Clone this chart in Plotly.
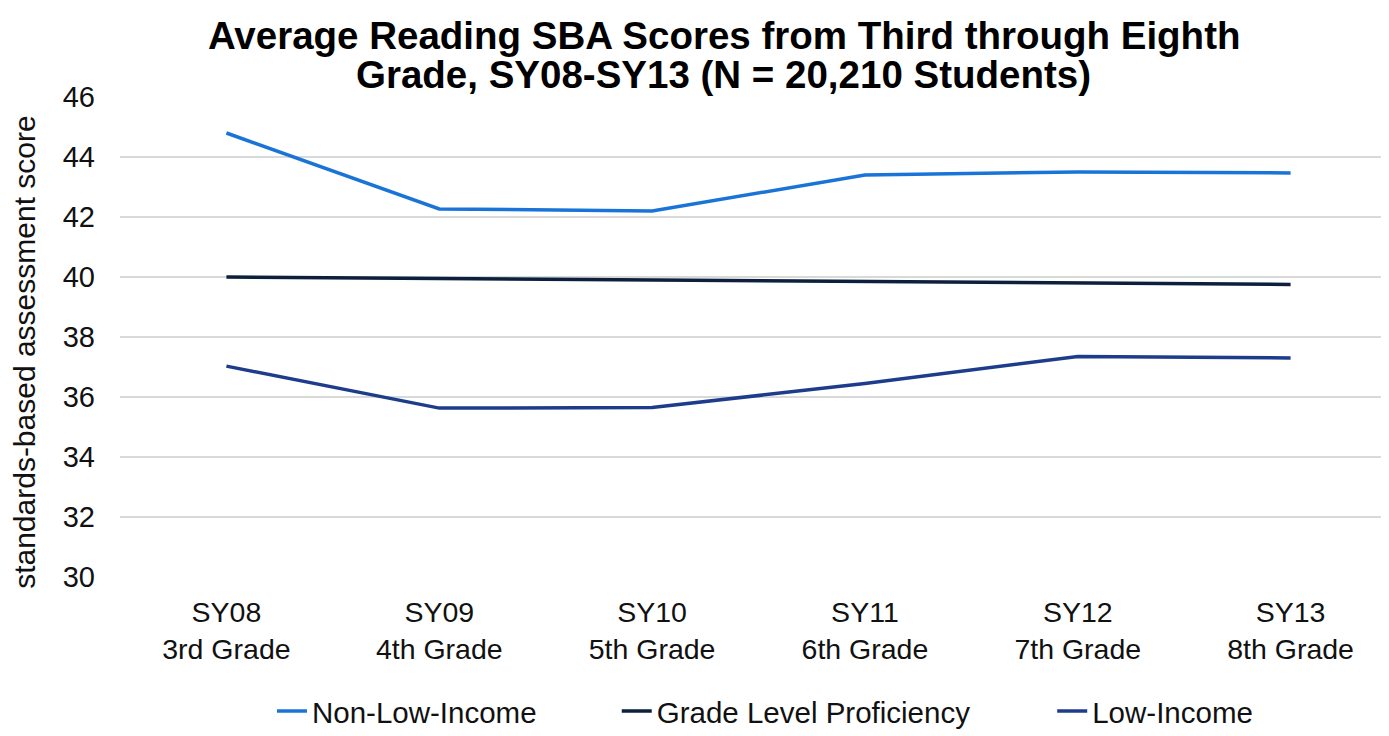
import plotly.graph_objects as go

categories = ["SY08<br>3rd Grade", "SY09<br>4th Grade", "SY10<br>5th Grade",
              "SY11<br>6th Grade", "SY12<br>7th Grade", "SY13<br>8th Grade"]
non_low_income = [44.8, 42.27, 42.2, 43.4, 43.5, 43.47]
grade_level = [40.0, 39.95, 39.9, 39.85, 39.8, 39.75]
low_income = [37.03, 35.63, 35.65, 36.45, 37.35, 37.3]

title_lines = ["Average Reading SBA Scores from Third through Eighth",
               "Grade, SY08-SY13 (N = 20,210 Students)"]
y_title = "standards-based assessment score"

series = [
    ("Non-Low-Income", non_low_income, "#1a74d8", "legend", 0.119),
    ("Grade Level Proficiency", grade_level, "#0c1f3d", "legend2", 0.389),
    ("Low-Income", low_income, "#1d3c8c", "legend3", 0.730),
]

font_family = "Liberation Sans, Arial, sans-serif"
fig = go.Figure()
legends = {}
for name, vals, color, lg, lx in series:
    fig.add_trace(go.Scatter(x=categories, y=vals, mode="lines", name=name,
                             legend=lg, line=dict(color=color, width=3.5)))
    legends[lg] = dict(orientation="h", x=lx, xanchor="left", y=-0.28,
                       yanchor="middle", font=dict(size=29.5, color="#111111"),
                       bgcolor="rgba(0,0,0,0)")

annotations = [
    dict(text="<b>" + title_lines[0] + "</b>", x=0.4726, y=1.129, xref="paper", yref="paper",
         xanchor="center", yanchor="middle", showarrow=False,
         font=dict(family=font_family, size=38.5, color="black")),
    dict(text="<b>" + title_lines[1] + "</b>", x=0.4726, y=1.046, xref="paper", yref="paper",
         xanchor="center", yanchor="middle", showarrow=False,
         font=dict(family=font_family, size=38.5, color="black")),
    dict(text=y_title, x=-0.0744, y=0.469, xref="paper", yref="paper", textangle=-90,
         xanchor="center", yanchor="middle", showarrow=False,
         font=dict(family=font_family, size=30, color="#111111")),
]

fig.update_layout(
    width=1389, height=736,
    paper_bgcolor="white", plot_bgcolor="white",
    margin=dict(l=112, r=0, t=89, b=167),
    font=dict(family=font_family, color="#111111"),
    showlegend=True,
    annotations=annotations,
    xaxis=dict(type="category", range=[-0.5, 5.5], showgrid=False, showline=False,
               zeroline=False, ticks="", automargin=False, ticklabelstandoff=15,
               tickfont=dict(size=28.5, color="#111111")),
    yaxis=dict(range=[30, 46], dtick=2, showgrid=True, gridcolor="#d9d9d9",
               gridwidth=1.5, zeroline=False, showline=False, ticks="",
               automargin=False, ticklabelstandoff=24,
               tickfont=dict(size=29, color="#111111")),
    **legends,
)

fig.write_html("out.html")
